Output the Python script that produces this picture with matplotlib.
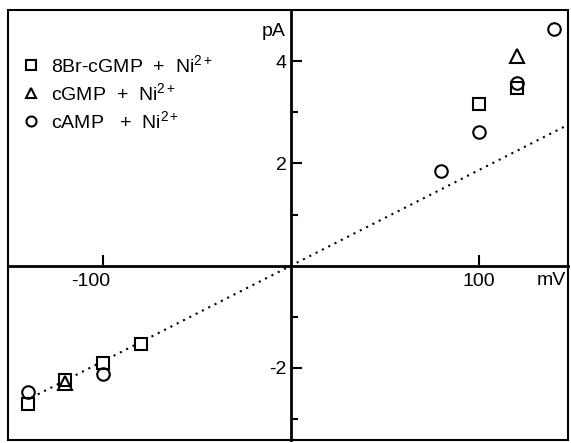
import matplotlib
matplotlib.use("Agg")
import matplotlib.pyplot as plt
import numpy as np
from matplotlib.patches import Rectangle
from matplotlib.transforms import ScaledTranslation

plt.rcParams['font.family'] = ['Liberation Sans', 'DejaVu Sans']
plt.rcParams['mathtext.fontset'] = 'custom'
plt.rcParams['mathtext.rm'] = 'Liberation Sans'
plt.rcParams['mathtext.it'] = 'Liberation Sans:italic'
plt.rcParams['mathtext.bf'] = 'Liberation Sans:bold'

# Data (mV, pA)
br_x = [-140, -120, -100, -80, 100, 120]
br_y = [-2.71, -2.24, -1.90, -1.54, 3.17, 3.48]
cg_x = [-120, 120]
cg_y = [-2.30, 4.10]
ca_x = [-140, -100, 80, 100, 120, 140]
ca_y = [-2.48, -2.12, 1.85, 2.61, 3.58, 4.62]

fit_x = [-138, 150]
fit_slope = 0.0187

labels = ['8Br-cGMP  +  Ni$^{2+}$', 'cGMP  +  Ni$^{2+}$', 'cAMP   +  Ni$^{2+}$']
ytick_major = [-2, 2, 4]
ytick_minor = [-3, -1, 1, 3]
xtick_major = [-100, 100]

FS = 14

fig = plt.figure(figsize=(5.71, 4.43), dpi=100)
ax = fig.add_axes([8/571, 3/443, 560/571, 430/443])
ax.set_xlim(-150.5, 147.3)
ax.set_ylim(-3.41, 5.0)

fx = np.array(fit_x, dtype=float)
ax.plot(fx, fit_slope*fx, color='black', linestyle=(0, (1, 2.4)), linewidth=1.5)

ms = 8.5
mew = 1.5
ax.plot(br_x, br_y, 's', mfc='white', mec='black', mew=mew, ms=ms, label=labels[0], zorder=3)
ax.plot(cg_x, cg_y, '^', mfc='none', mec='black', mew=mew, ms=ms+1, label=labels[1], zorder=3)
ax.plot(ca_x, ca_y, 'o', mfc='none', mec='black', mew=mew, ms=ms+0.5, label=labels[2], zorder=3)

for s in ['top', 'right']:
    ax.spines[s].set_visible(False)
ax.spines['left'].set_position(('data', 0))
ax.spines['bottom'].set_position(('data', 0))
ax.spines['left'].set_linewidth(2.0)
ax.spines['bottom'].set_linewidth(2.0)

ax.add_patch(Rectangle((0, 0), 1, 1, transform=ax.transAxes, fill=False,
                       edgecolor='black', linewidth=1.5, clip_on=False))

ax.set_xticks(xtick_major)
ax.set_xticklabels(['-100', '100'])
ax.set_yticks(ytick_major)
ax.set_yticklabels(['-2', '2', '4'])
ax.set_yticks(ytick_minor, minor=True)
ax.tick_params(axis='both', which='major', direction='in', length=8, width=1.5,
               labelsize=FS)
ax.tick_params(axis='y', which='minor', direction='in', length=5, width=1.5)
ax.tick_params(axis='x', which='major', pad=5)
ax.tick_params(axis='y', which='major', pad=3)

# the -100 label sits slightly left of its tick in the reference
lab = ax.get_xticklabels()[0]
lab.set_transform(lab.get_transform() + ScaledTranslation(-12/100, 0, fig.dpi_scale_trans))

ax.text(-3, 4.58, 'pA', ha='right', va='center', fontsize=FS)
ax.text(146, -0.12, 'mV', ha='right', va='top', fontsize=FS)

leg = ax.legend(loc='upper left', bbox_to_anchor=(0.012, 0.915), frameon=False,
                fontsize=FS, handlelength=0.9, handletextpad=0.55,
                labelspacing=0.3, markerscale=0.8, borderaxespad=0)

fig.savefig('out.png', dpi=100)
